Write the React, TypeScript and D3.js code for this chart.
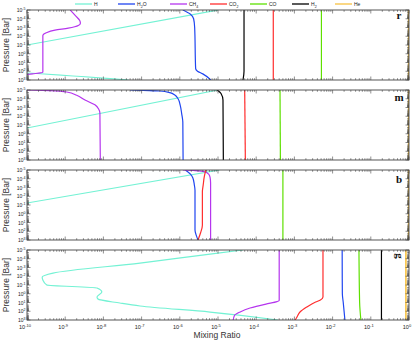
import React, { useEffect, useRef } from 'react';
import * as d3 from 'd3';

// [pressure (bar), mixing ratio]
const rH = [[1e-5, 1e-5], [0.1, 1e-10], [0.63, 1e-11], [91, 1e-11], [158, 1e-10], [1000, 4.6e-8]];
const rH2O = [[1e-5, 1.2e-6], [3e-5, 1.9e-6], [1e-4, 2.3e-6], [1e-3, 2.45e-6], [50, 2.6e-6], [100, 2.9e-6], [200, 4e-6], [1000, 6.5e-6]];
const rCH4 = [[1e-5, 1.35e-9], [5e-5, 1.9e-9], [1.6e-4, 2.4e-9], [3.2e-4, 2.5e-9], [6e-4, 2.2e-9], [1.2e-3, 1.2e-9], [2e-3, 5.4e-10], [4e-3, 3.2e-10], [8e-3, 2.6e-10], [130, 2.6e-10], [200, 1.4e-10], [320, 5e-11]];
const rCO2 = [[1e-5, 2.8e-4], [1000, 2.8e-4]];
const rCO = [[1e-5, 5.1e-3], [1000, 5.1e-3]];
const rH2 = [[1e-5, 4.8e-5], [100, 4.8e-5], [1000, 4.5e-5]];
const rHe = [[1e-5, 0.98], [1000, 0.98]];

const mH = [[1e-5, 1e-5], [0.22, 1e-10], [1.6, 1e-11]];
const mH2O = [[1e-5, 5e-8], [1.15e-5, 1.6e-7], [1.3e-5, 3e-7], [2e-5, 5.5e-7], [3.7e-5, 7.4e-7], [1e-4, 9e-7], [5e-4, 1.02e-6], [5e-3, 1.12e-6], [0.046, 1.2e-6], [1000, 1.22e-6]];
const mCH4 = [[1e-5, 1e-10], [1.2e-5, 4e-10], [1.7e-5, 1.1e-9], [4e-5, 2e-9], [1.4e-4, 3.3e-9], [5e-4, 6e-9], [1.5e-3, 7.5e-9], [4.3e-3, 8.1e-9], [1000, 8.3e-9]];
const mCO2 = [[1e-5, 5e-5], [1000, 5.2e-5]];
const mCO = [[1e-5, 4.2e-4], [1000, 4.3e-4]];
const mH2 = [[1e-5, 9.5e-6], [2.5e-5, 1.2e-5], [1.4e-4, 1.35e-5], [1000, 1.38e-5]];
const mHe = [[1e-5, 0.98], [1000, 0.98]];

const bH = [[1e-5, 1.1e-5], [0.059, 1e-10], [0.33, 1e-11]];
const bH2O = [[1e-5, 1.4e-6], [3e-5, 1.9e-6], [8e-5, 2.2e-6], [5e-4, 2.4e-6], [2e-3, 2.5e-6], [70, 2.5e-6], [300, 2.7e-6], [1000, 3e-6]];
const bCH4 = [[1e-5, 1.2e-6], [1.15e-5, 2.5e-6], [1.6e-5, 4.5e-6], [3e-5, 5.7e-6], [7e-5, 6.2e-6], [3e-4, 6.4e-6], [1000, 6.4e-6]];
const bCO2 = [[1e-5, 4.8e-6], [5e-5, 4.4e-6], [5e-4, 4.1e-6], [3e-3, 3.9e-6], [20, 3.9e-6], [150, 3.5e-6], [1000, 3e-6]];
const bCO = [[1e-5, 5e-4], [1000, 5e-4]];
const bHe = [[1e-5, 0.98], [1000, 0.98]];

const gH = [[1e-5, 4.5e-5], [2.9e-5, 6.2e-6], [3.1e-4, 9.1e-8], [4.3e-3, 4.8e-10], [0.012, 2.5e-10], [0.027, 2.6e-10], [0.1, 3.3e-10], [0.22, 6.8e-9], [0.63, 9.1e-9], [2.3, 6.8e-9], [4, 7.2e-9], [11.5, 2.7e-8], [25, 9.1e-8], [123, 6.2e-6], [1000, 3.7e-4]];
const gH2O = [[1e-5, 0.0178], [1, 0.018], [10, 0.019], [1000, 0.021]];
const gCH4 = [[1e-5, 4e-4], [6, 4e-4], [8, 3.5e-4], [15, 1.8e-4], [43, 6.9e-5], [120, 3.8e-5], [300, 2.7e-5], [1000, 2.5e-5]];
const gCO2 = [[1e-5, 5.6e-3], [2.3, 5.6e-3], [5.2, 4.8e-3], [8.7, 3.6e-3], [33, 2.1e-3], [123, 1.4e-3], [460, 1.17e-3], [1000, 1.05e-3]];
const gCO = [[1e-5, 0.049], [10, 0.051], [1000, 0.055]];
const gH2 = [[1e-5, 0.19], [1000, 0.19]];
const gHe = [[1e-5, 0.83], [1000, 0.83]];

const panelNames = ['r', 'm', 'b', 'g'];
const panelData = [
  { H: rH, H2O: rH2O, CH4: rCH4, CO2: rCO2, CO: rCO, H2: rH2, He: rHe },
  { H: mH, H2O: mH2O, CH4: mCH4, CO2: mCO2, CO: mCO, H2: mH2, He: mHe },
  { H: bH, H2O: bH2O, CH4: bCH4, CO2: bCO2, CO: bCO, He: bHe },
  { H: gH, H2O: gH2O, CH4: gCH4, CO2: gCO2, CO: gCO, H2: gH2, He: gHe },
];

const species = ['H', 'H2O', 'CH4', 'CO2', 'CO', 'H2', 'He'];
const legendLabels = [['H', ''], ['H', '2', 'O'], ['CH', '4'], ['CO', '2'], ['CO', ''], ['H', '2'], ['He', '']];
const colors = {
  H: '#74f2d4', H2O: '#1f45f0', CH4: '#b535ee', CO2: '#ff2d2d',
  CO: '#5ee000', H2: '#000000', He: '#f8c242',
};

const xExps = [-10, -9, -8, -7, -6, -5, -4, -3, -2, -1, 0];
const yExps = [-5, -4, -3, -2, -1, 0, 1, 2, 3];

const App = () => {
  const ref = useRef(null);

  useEffect(() => {
    const width = 415;
    const height = 342;
    const left = 27, right = 409;
    const tops = [10, 90, 170, 250];
    const ph = 70;
    const font = 'Liberation Sans, Arial, sans-serif';

    const svg = d3.select(ref.current);
    svg.selectAll('*').remove();
    svg.attr('width', width).attr('height', height);

    const x = d3.scaleLog().domain([1e-10, 1]).range([left, right]);
    const xMinor = [];
    xExps.slice(0, -1).forEach(e => { for (let k = 2; k < 10; k++) xMinor.push(k * 10 ** e); });
    const yMinor = [];
    yExps.slice(0, -1).forEach(e => { for (let k = 2; k < 10; k++) yMinor.push(k * 10 ** e); });

    panelNames.forEach((name, i) => {
      const top = tops[i];
      const y = d3.scaleLog().domain([1e-5, 1e3]).range([top, top + ph]);
      const g = svg.append('g');

      g.append('clipPath').attr('id', `clip${i}`)
        .append('rect').attr('x', left).attr('y', top).attr('width', right - left).attr('height', ph);

      const line = d3.line()
        .x(d => x(d[1]))
        .y(d => y(d[0]))
        .curve(d3.curveMonotoneY);

      const lines = g.append('g').attr('clip-path', `url(#clip${i})`);
      species.forEach(s => {
        const d = panelData[i][s];
        if (!d) return;
        lines.append('path')
          .attr('d', line(d))
          .attr('fill', 'none')
          .attr('stroke', colors[s])
          .attr('stroke-width', s === 'He' ? 1.6 : 1.2);
      });

      // x ticks, top and bottom, inward
      const tk = g.append('g').attr('stroke', '#444').attr('stroke-width', 0.6);
      xExps.forEach(e => {
        const xx = x(10 ** e);
        tk.append('line').attr('x1', xx).attr('x2', xx).attr('y1', top).attr('y2', top + 3.5);
        tk.append('line').attr('x1', xx).attr('x2', xx).attr('y1', top + ph).attr('y2', top + ph - 3.5);
      });
      xMinor.forEach(v => {
        const xx = x(v);
        tk.append('line').attr('x1', xx).attr('x2', xx).attr('y1', top).attr('y2', top + 1.8);
        tk.append('line').attr('x1', xx).attr('x2', xx).attr('y1', top + ph).attr('y2', top + ph - 1.8);
      });
      // y ticks, left and right
      yExps.forEach(e => {
        const yy = y(10 ** e);
        tk.append('line').attr('x1', left).attr('x2', left + 3.5).attr('y1', yy).attr('y2', yy);
        tk.append('line').attr('x1', right).attr('x2', right - 3.5).attr('y1', yy).attr('y2', yy);
      });
      yMinor.forEach(v => {
        const yy = y(v);
        tk.append('line').attr('x1', left).attr('x2', left + 2).attr('y1', yy).attr('y2', yy);
        tk.append('line').attr('x1', right).attr('x2', right - 2).attr('y1', yy).attr('y2', yy);
      });

      g.append('rect')
        .attr('x', left).attr('y', top).attr('width', right - left).attr('height', ph)
        .attr('fill', 'none').attr('stroke', '#444').attr('stroke-width', 0.9);

      // y tick labels
      yExps.forEach(e => {
        const t = g.append('text')
          .attr('x', left - 1.5).attr('y', y(10 ** e) + 2)
          .attr('text-anchor', 'end')
          .attr('font-family', font).attr('font-size', 5).attr('fill', '#222');
        t.append('tspan').text('10');
        t.append('tspan').attr('dy', -2).attr('font-size', 3.6).text(String(e).replace('-', '-'));
      });

      g.append('text')
        .attr('transform', `translate(9,${top + ph / 2}) rotate(-90)`)
        .attr('text-anchor', 'middle')
        .attr('font-family', font).attr('font-size', 8.5).attr('fill', '#333')
        .text('Pressure [Bar]');

      const lab = g.append('text')
        .attr('font-family', 'Liberation Serif, Times New Roman, serif')
        .attr('font-weight', 'bold').attr('font-size', 11).attr('fill', '#111')
        .text(name);
      if (name === 'g') {
        lab.attr('transform', `translate(396,${top + 6}) rotate(90)`).attr('text-anchor', 'middle');
      } else {
        lab.attr('x', 399).attr('y', [19, 101, 183][i]).attr('text-anchor', 'middle');
      }
    });

    // x tick labels on the bottom panel
    const bottom = tops[3] + ph;
    xExps.forEach(e => {
      const t = svg.append('text')
        .attr('x', x(10 ** e) - 2).attr('y', bottom + 9)
        .attr('text-anchor', 'middle')
        .attr('font-family', font).attr('font-size', 5.5).attr('fill', '#222');
      t.append('tspan').text('10');
      t.append('tspan').attr('dy', -2.2).attr('font-size', 4).text(String(e));
    });

    svg.append('text')
      .attr('x', 217).attr('y', 338)
      .attr('text-anchor', 'middle')
      .attr('font-family', font).attr('font-size', 8.5).attr('fill', '#333')
      .text('Mixing Ratio');

    // legend
    const legX = [75, 118, 170, 210, 250, 292, 335];
    species.forEach((s, i) => {
      const lx = legX[i];
      svg.append('line')
        .attr('x1', lx).attr('x2', lx + 17).attr('y1', 4).attr('y2', 4)
        .attr('stroke', colors[s]).attr('stroke-width', 1.3);
      const t = svg.append('text')
        .attr('x', lx + 19).attr('y', 6)
        .attr('font-family', font).attr('font-size', 5).attr('fill', '#222');
      const lb = legendLabels[i];
      t.append('tspan').text(lb[0]);
      if (lb[1]) t.append('tspan').attr('dy', 1.5).attr('font-size', 3.6).text(lb[1]);
      if (lb[2]) t.append('tspan').attr('dy', -1.5).text(lb[2]);
    });
  }, []);

  return <svg ref={ref} style={{ position: 'absolute', left: 0, top: 0 }} />;
};

export default App;
